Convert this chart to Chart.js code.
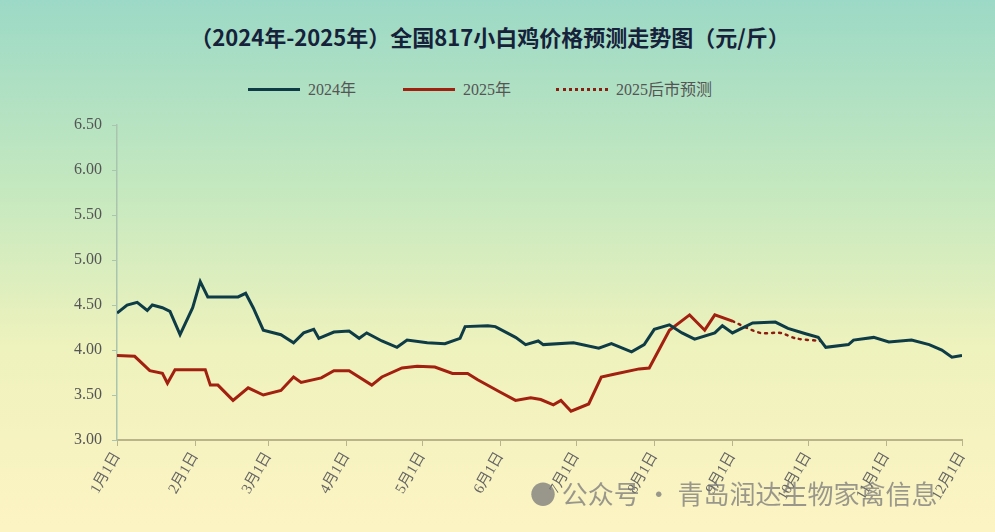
<!DOCTYPE html>
<html><head><meta charset="utf-8">
<script src="https://cdn.jsdelivr.net/npm/chart.js@4"></script>
<style>
body{margin:0;width:995px;height:532px;overflow:hidden;background:linear-gradient(180deg,#9cd9c6 0%,#c4e8bf 35%,#eef2bd 65%,#fdf4c3 100%);font-family:"Noto Sans CJK SC",sans-serif;position:relative}
#title{position:absolute;top:20px;left:0;width:980px;text-align:center;font-size:22px;font-weight:bold;color:#16213a}
#legend{position:absolute;top:76px;left:248px;font-family:"Liberation Serif","Noto Sans CJK SC",serif;font-size:16px;color:#555}
#legend span{position:absolute;white-space:nowrap}
#legend i{display:inline-block;width:52px;vertical-align:middle;margin-right:8px;position:relative;top:-2px}
#wm{position:absolute;left:530px;top:474px;font-size:26px;color:rgba(120,120,120,0.75);white-space:nowrap}
canvas{position:absolute;left:0;top:0}
</style></head><body>
<div id="title">（2024年-2025年）全国817小白鸡价格预测走势图（元/斤）</div>
<div id="legend">
<span style="left:0"><i style="border-top:3px solid #0d3b46"></i>2024年</span>
<span style="left:155px"><i style="border-top:3px solid #a2200f"></i>2025年</span>
<span style="left:308px"><i style="border-top:3px dotted #8a1d10"></i>2025后市预测</span>
</div>
<canvas id="c" width="995" height="532"></canvas>
<div id="wm">● 公众号 · 青岛润达生物家禽信息</div>
<script>
const monthLabels = ["1月1日","2月1日","3月1日","4月1日","5月1日","6月1日","7月1日","8月1日","9月1日","10月1日","11月1日","12月1日"];
const monthDays = [0,31,60,91,121,152,182,213,244,274,305,335];

const days2024 = [0,4,8,12,14,18,21,25,30,33,36,48,51,54,58,65,70,74,78,80,86,92,96,99,105,111,115,123,130,136,138,147,150,158,162,167,169,181,191,196,204,209,213,219,224,229,237,240,244,252,261,266,273,278,281,290,292,300,306,315,322,327,331,335];
const price2024 = [4.41,4.50,4.53,4.44,4.50,4.47,4.43,4.17,4.47,4.76,4.59,4.59,4.63,4.47,4.22,4.17,4.08,4.19,4.23,4.13,4.20,4.21,4.13,4.19,4.10,4.03,4.11,4.08,4.07,4.13,4.26,4.27,4.26,4.14,4.06,4.10,4.06,4.08,4.02,4.07,3.98,4.06,4.23,4.28,4.19,4.12,4.19,4.27,4.19,4.30,4.31,4.24,4.18,4.14,4.03,4.06,4.11,4.14,4.09,4.11,4.06,4.00,3.92,3.94];

const days2025 = [0,7,13,18,20,23,35,37,40,46,52,58,65,70,73,81,86,92,101,105,113,119,126,133,139,143,152,158,164,168,173,176,180,187,192,197,207,211,219,227,233,237,244];
const price2025 = [3.94,3.93,3.77,3.74,3.63,3.78,3.78,3.61,3.61,3.44,3.58,3.50,3.55,3.70,3.64,3.69,3.77,3.77,3.61,3.70,3.80,3.82,3.81,3.74,3.74,3.67,3.53,3.44,3.47,3.45,3.39,3.44,3.32,3.40,3.70,3.73,3.79,3.80,4.22,4.39,4.22,4.39,4.32];

const daysForecast = [244,255,263,269,279];
const priceForecast = [4.32,4.19,4.19,4.13,4.10];

const yTicks = [3.0,3.5,4.0,4.5,5.0,5.5,6.0,6.5];

const pts = (xs, ys) => xs.map((d, i) => ({x: d, y: ys[i]}));
const serif = "'Liberation Serif', 'Noto Sans CJK SC', serif";

new Chart(document.getElementById('c'), {
    type: 'line',
    data: {
        datasets: [
            {label: '2024年', data: pts(days2024, price2024), borderColor: '#0d3b46', borderWidth: 3, pointRadius: 0, tension: 0},
            {label: '2025年', data: pts(days2025, price2025), borderColor: '#a2200f', borderWidth: 3, pointRadius: 0, tension: 0},
            {label: '2025后市预测', data: pts(daysForecast, priceForecast), borderColor: '#8a1d10', borderWidth: 2.5, borderDash: [2, 5], borderCapStyle: 'round', pointRadius: 0, tension: 0.3}
        ]
    },
    options: {
        responsive: false,
        animation: false,
        layout: {padding: {left: 0, right: 33, top: 125, bottom: 0}},
        plugins: {legend: {display: false}, tooltip: {enabled: false}},
        scales: {
            x: {
                type: 'linear', min: 0, max: 335,
                afterBuildTicks: s => { s.ticks = monthDays.map(v => ({value: v})); },
                afterFit: s => { s.height = 92; },
                ticks: {
                    autoSkip: false, maxRotation: 60, minRotation: 60, color: '#666',
                    font: {family: serif, size: 15},
                    callback: v => monthLabels[monthDays.indexOf(v)]
                },
                grid: {display: true, drawOnChartArea: false, tickLength: 6, color: '#b9b48a'},
                border: {color: '#b9b48a', width: 2}
            },
            y: {
                min: 3, max: 6.5,
                afterBuildTicks: s => { s.ticks = yTicks.map(v => ({value: v})); },
                afterFit: s => { s.width = 117; },
                ticks: {color: '#555', font: {family: serif, size: 16}, padding: 10, callback: v => v.toFixed(2)},
                grid: {display: true, drawOnChartArea: false, tickLength: 5, color: '#aac4b0'},
                border: {color: '#aac4b0', width: 1.5}
            }
        }
    }
});
</script>
</body></html>
